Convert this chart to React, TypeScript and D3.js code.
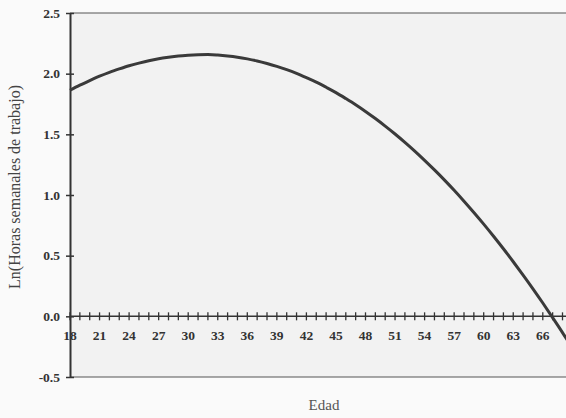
import React, { useEffect, useRef } from "react";
import * as d3 from "d3";

// edad 18..69 y Ln(horas semanales)
const ages = d3.range(18, 70);
const lnHours = [
  1.863, 1.905, 1.943, 1.979, 2.011, 2.039, 2.065, 2.087, 2.107, 2.123,
  2.135, 2.145, 2.151, 2.155, 2.157, 2.153, 2.146, 2.136, 2.122, 2.105,
  2.084, 2.06, 2.033, 2.002, 1.967, 1.93, 1.888, 1.844, 1.795, 1.744,
  1.689, 1.63, 1.568, 1.503, 1.434, 1.362, 1.286, 1.207, 1.125, 1.039,
  0.949, 0.856, 0.76, 0.66, 0.557, 0.45, 0.34, 0.227, 0.11, -0.011,
  -0.134, -0.262,
];
const yTicks = [-0.5, 0, 0.5, 1, 1.5, 2, 2.5];
const xLabels = d3.range(18, 70, 3);

const W = 566;
const H = 418;

export default function App() {
  const ref = useRef<SVGSVGElement>(null);

  useEffect(() => {
    const svg = d3.select(ref.current);
    svg.selectAll("*").remove();

    const left = 70, top = 13, bottom = 377;
    const x = d3.scaleLinear().domain([18, 69]).range([left, left + 51 * 9.85]);
    const y = d3.scaleLinear().domain([-0.5, 2.5]).range([bottom, top]);
    const font = "'Liberation Serif', 'DejaVu Serif', serif";

    svg.append("rect").attr("width", W).attr("height", H).attr("fill", "#fafafa");
    svg.append("rect")
      .attr("x", left).attr("y", top)
      .attr("width", 600).attr("height", bottom - top)
      .attr("fill", "#f2f2f2");

    // marco superior e inferior
    svg.append("line")
      .attr("x1", left).attr("x2", 600).attr("y1", top).attr("y2", top)
      .attr("stroke", "#555").attr("stroke-width", 1.2);
    svg.append("line")
      .attr("x1", left).attr("x2", 600).attr("y1", bottom).attr("y2", bottom)
      .attr("stroke", "#555").attr("stroke-width", 1.2);

    // eje Y
    const yAxis = svg.append("g").attr("transform", `translate(${left},0)`)
      .call(d3.axisLeft(y).tickValues(yTicks).tickFormat((d) => d3.format(".1f")(d as number).replace("−", "-")).tickSizeInner(4).tickSizeOuter(0));
    yAxis.select(".domain").attr("stroke", "#333").attr("stroke-width", 2);
    yAxis.selectAll(".tick line").attr("x1", -4).attr("x2", 4).attr("stroke", "#333").attr("stroke-width", 1.5);
    yAxis.selectAll(".tick text")
      .attr("x", -10)
      .attr("font-family", font).attr("font-size", 13.5).attr("font-weight", "bold")
      .attr("fill", "#333");

    // eje X en y = 0
    const x0 = y(0);
    svg.append("line")
      .attr("x1", left).attr("x2", 600).attr("y1", x0).attr("y2", x0)
      .attr("stroke", "#333").attr("stroke-width", 1.5);
    svg.append("g").selectAll("line").data(ages).join("line")
      .attr("x1", (d) => x(d)).attr("x2", (d) => x(d))
      .attr("y1", x0 - 4).attr("y2", x0 + 4)
      .attr("stroke", "#333").attr("stroke-width", 1.3);
    svg.append("g").selectAll("text").data(xLabels).join("text")
      .attr("x", (d) => x(d)).attr("y", x0 + 24)
      .attr("text-anchor", "middle")
      .attr("font-family", font).attr("font-size", 13.5).attr("font-weight", "bold")
      .attr("fill", "#333")
      .text((d) => d);

    // curva
    const line = d3.line<number>()
      .x((_, i) => x(ages[i]))
      .y((d) => y(d))
      .curve(d3.curveMonotoneX);
    svg.append("path")
      .datum(lnHours)
      .attr("d", line)
      .attr("fill", "none")
      .attr("stroke", "#3a3a3a")
      .attr("stroke-width", 3);

    // titulos
    svg.append("text")
      .attr("transform", `translate(20,187) rotate(-90)`)
      .attr("text-anchor", "middle")
      .attr("font-family", font).attr("font-size", 16)
      .attr("fill", "#444")
      .text("Ln(Horas semanales de trabajo)");
    svg.append("text")
      .attr("x", 324).attr("y", 410)
      .attr("text-anchor", "middle")
      .attr("font-family", font).attr("font-size", 15)
      .attr("fill", "#555")
      .text("Edad");
  }, []);

  return (
    <svg
      ref={ref}
      width={W}
      height={H}
      style={{ position: "absolute", left: 0, top: 0 }}
    />
  );
}
